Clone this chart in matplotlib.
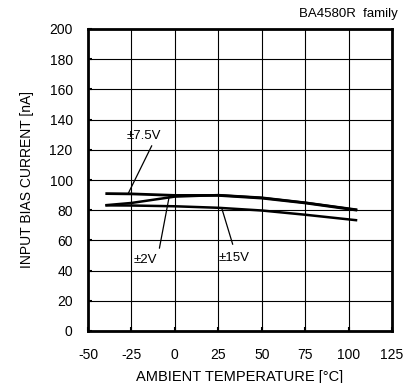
import matplotlib.pyplot as plt

plt.rcParams['font.family'] = ['Liberation Sans', 'DejaVu Sans']
plt.rcParams['axes.unicode_minus'] = False

# data (ambient temperature degC -> input bias current nA)
temp = [-40, -25, 0, 25, 50, 75, 105]
ib_7v5 = [91.0, 90.8, 89.8, 89.8, 88.0, 84.8, 80.0]
ib_2v = [83.3, 84.8, 89.0, 90.0, 88.3, 85.0, 80.3]
ib_15v = [83.2, 83.1, 82.6, 81.6, 79.8, 77.0, 73.3]

xticks = [-50, -25, 0, 25, 50, 75, 100, 125]
yticks = list(range(0, 201, 20))

# label text, text position, leader line start -> end (on the curve)
labels = ['±7.5V', '±2V', '±15V']
label_pos = [(-17.9, 129.0), (-17.0, 47.2), (34.2, 48.3)]
leader_from = [(-13.3, 122.7), (-8.9, 54.8), (33.3, 57.4)]
leader_to = [(-26.8, 91.2), (-3.2, 89.4), (27.0, 81.3)]

fig = plt.figure(figsize=(4.11, 3.83), dpi=100)
ax = fig.add_axes([88 / 411, 1 - 331 / 383, 304 / 411, 302 / 383])

ax.plot(temp, ib_7v5, color='black', lw=2.0, solid_capstyle='butt')
ax.plot(temp, ib_2v, color='black', lw=1.8, solid_capstyle='butt')
ax.plot(temp, ib_15v, color='black', lw=1.8, solid_capstyle='butt')

ax.set_xlim(-50, 125)
ax.set_ylim(0, 200)
ax.set_xticks(xticks)
ax.set_yticks(yticks)
ax.grid(True, color='black', lw=0.8)
ax.tick_params(direction='in', length=3, width=1.5, labelsize=10,
               color='black')
ax.tick_params(axis='x', pad=12)
ax.tick_params(axis='y', pad=11)
for s in ax.spines.values():
    s.set_linewidth(2.0)

for txt, pos, p0, p1 in zip(labels, label_pos, leader_from, leader_to):
    ax.annotate('', xy=p1, xytext=p0,
                arrowprops=dict(arrowstyle='-', color='black', lw=0.9,
                                shrinkA=0, shrinkB=0))
    ax.text(pos[0], pos[1], txt, ha='center', va='center', fontsize=9.5)

ax.set_xlabel('AMBIENT TEMPERATURE [°C]', fontsize=10.5, labelpad=6)
ax.set_ylabel('INPUT BIAS CURRENT [nA]', fontsize=10, labelpad=11)
fig.text(398 / 411, 1 - 14 / 383, 'BA4580R  family', ha='right', va='center',
         fontsize=9.5)

fig.savefig('out.png', dpi=100)
